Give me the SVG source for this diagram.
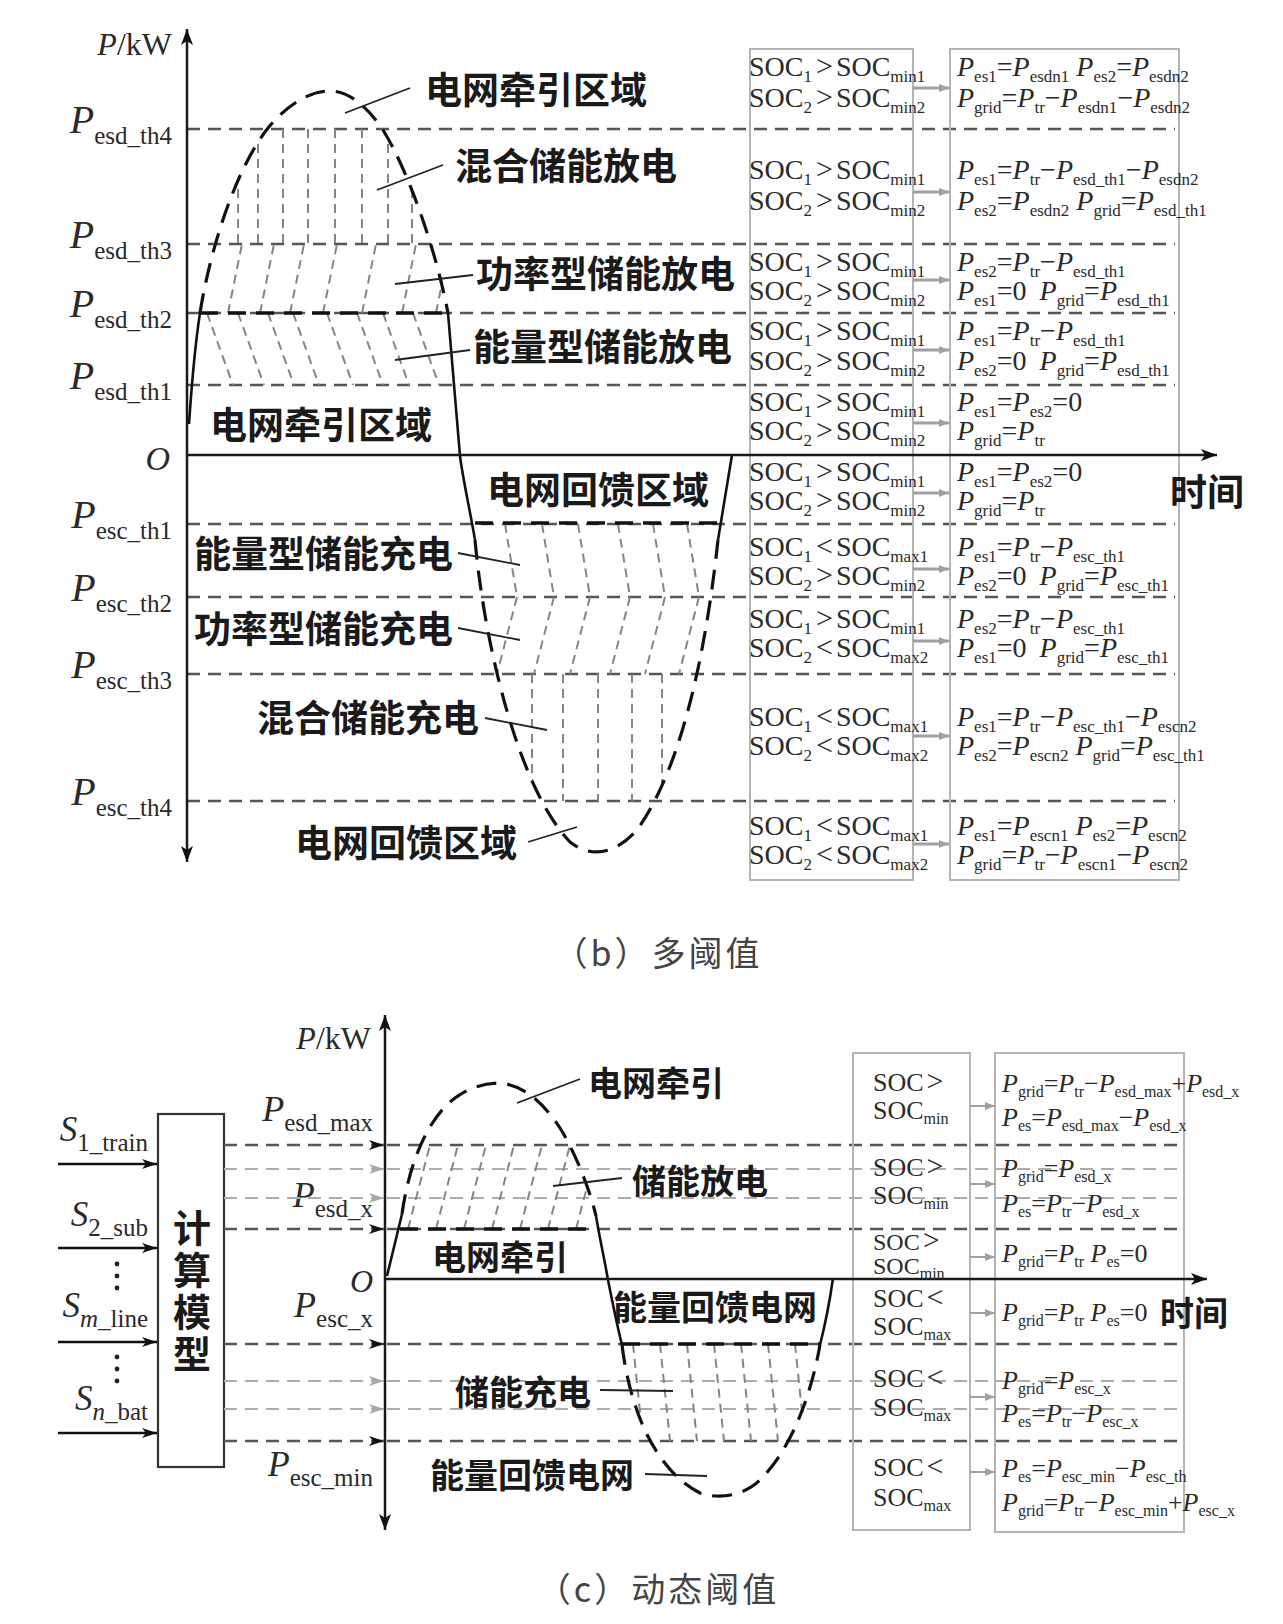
<svg xmlns="http://www.w3.org/2000/svg" width="1283" height="1624" viewBox="0 0 1283 1624">
<defs>
<style>
.ax{stroke:#1a1a1a;stroke-width:2.5;fill:none}
.th{stroke:#555;stroke-width:2.4;stroke-dasharray:13 8;fill:none}
.thl{stroke:#acacac;stroke-width:2.2;stroke-dasharray:13 8;fill:none}
.lobe{stroke:#111;stroke-width:3.2;stroke-dasharray:20 11;fill:none}
.sol{stroke:#111;stroke-width:2.6;fill:none}
.bd{stroke:#111;stroke-width:3.4;stroke-dasharray:18 10;fill:none}
.h{stroke:#858585;stroke-width:2;stroke-dasharray:9 6;fill:none}
.ld{stroke:#222;stroke-width:1.8;fill:none}
.bx{stroke:#b4b4b4;stroke-width:2;fill:none}
.ga{stroke:#a0a0a0;stroke-width:3;fill:none}
.cn{font-family:"Noto Sans CJK SC",sans-serif;fill:#1a1a1a;font-weight:700}
.t{font-family:"Liberation Serif","Times New Roman",serif;fill:#2a2a2a}
.i{font-style:italic}
.s{font-size:17px;baseline-shift:-6px}
.s2{font-size:16px;baseline-shift:-5px}
.ps{font-size:25px;baseline-shift:-11px}
.ps2{font-size:25px;baseline-shift:-10px}
.g{font-size:30px}
</style>
<marker id="ax" viewBox="0 0 16 12" refX="16" refY="6" markerWidth="16" markerHeight="12" markerUnits="userSpaceOnUse" orient="auto-start-reverse"><path d="M0,0 L16,6 L0,12 L4,6 Z" fill="#111"/></marker>
<marker id="ak" viewBox="0 0 15 10" refX="15" refY="5" markerWidth="15" markerHeight="10" markerUnits="userSpaceOnUse" orient="auto"><path d="M0,0 L15,5 L0,10 L4,5 Z" fill="#111"/></marker>
<marker id="ag" viewBox="0 0 15 10" refX="15" refY="5" markerWidth="15" markerHeight="10" markerUnits="userSpaceOnUse" orient="auto"><path d="M0,0 L15,5 L0,10 L4,5 Z" fill="#a8a8a8"/></marker>
<marker id="as" viewBox="0 0 10 8" refX="10" refY="4" markerWidth="10" markerHeight="8" markerUnits="userSpaceOnUse" orient="auto"><path d="M0,0 L10,4 L0,8 Z" fill="#a0a0a0"/></marker>
<clipPath id="cb1"><path d="M189,456 L189,424 C192,380 195,345 200,313 C210,250 235,170 268,128 C288,104 310,91 330,91 C350,91 368,108 383,130 C408,170 436,250 448,313 C453,370 457,420 460,456 Z"/></clipPath>
<clipPath id="cb2"><path d="M460,456 C463,480 470,510 475,540 C485,650 520,790 570,842 C590,858 615,855 637,830 C680,770 705,660 718,540 C723,510 728,480 732,456 Z"/></clipPath>
<clipPath id="cc1"><path d="M387,1279 L387,1272 L402,1214 C408,1170 425,1120 455,1098 C470,1087 485,1083 500,1083 C525,1085 545,1105 560,1128 C575,1152 590,1190 596,1216 C600,1240 605,1262 608,1279 Z"/></clipPath>
<clipPath id="cc2"><path d="M608,1279 C612,1300 617,1325 622,1345 C630,1410 655,1470 700,1493 C720,1500 745,1495 760,1480 C790,1450 810,1400 820,1345 C825,1325 830,1300 833,1279 Z"/></clipPath>
</defs>
<rect width="1283" height="1624" fill="#fff"/>

<!-- ===== Chart (b) ===== -->
<g id="chart-b-grid">
<path class="th" d="M187,129H1175M187,244H1175M187,313H1175M187,385H1175M187,524H1175M187,597H1175M187,674H1175M187,801H1175"/>
</g>
<g id="chart-b-boxes">
<rect class="bx" x="750" y="49" width="163" height="831"/>
<rect class="bx" x="950" y="49" width="229" height="831"/>
</g>
<g id="chart-b-hatch">
<g clip-path="url(#cb1)" class="h">
<path d="M238,129V243M258,129V243M283,129V243M308,129V243M335,129V243M362,129V243M388,129V243M412,129V243"/>
<path d="M228,313L242,244M260,313L274,244M290,313L304,244M323,313L337,244M362,313L376,244M402,313L416,244M436,313L450,244"/>
<path d="M207,313L233,385M238,313L264,385M268,313L294,385M293,313L319,385M327,313L353,385M357,313L383,385M383,313L409,385M413,313L439,385"/>
</g>
<g clip-path="url(#cb2)" class="h">
<path d="M505,524L517,597M542,524L554,597M578,524L590,597M618,524L630,597M653,524L665,597M687,524L699,597"/>
<path d="M517,597L497,674M554,597L534,674M590,597L570,674M630,597L610,674M665,597L645,674M699,597L679,674"/>
<path d="M532,674V801M563,674V801M598,674V801M632,674V801M662,674V801"/>
</g>
</g>
<g id="chart-b-curve">
<path class="lobe" d="M200,313 C210,250 235,170 268,128 C288,104 310,91 330,91 C350,91 368,108 383,130 C408,170 436,250 448,313"/>
<path class="sol" d="M189,424 C192,380 195,345 200,313"/>
<path class="sol" d="M448,313 C453,370 457,420 460,456 C463,480 470,510 475,540"/>
<path class="lobe" d="M475,540 C485,650 520,790 570,842 C590,858 615,855 637,830 C680,770 705,660 718,540"/>
<path class="sol" d="M718,540 C723,510 728,480 732,455"/>
<path class="bd" d="M200,313H448"/>
<path class="bd" d="M475,523H718"/>
</g>
<g id="chart-b-axes">
<line class="ax" x1="187" y1="862" x2="187" y2="29" marker-start="url(#ax)" marker-end="url(#ax)"/>
<line class="ax" x1="187" y1="455" x2="1217" y2="455" marker-end="url(#ax)"/>
</g>
<g id="chart-b-axis-labels" class="t" fill="#222">
<text x="172" y="55" font-size="32" text-anchor="end"><tspan class="i">P</tspan>/kW</text>
<text x="170" y="470" font-size="34" text-anchor="end" class="t i">O</text>
<text x="172" y="133" font-size="40" text-anchor="end"><tspan class="i">P</tspan><tspan class="ps">esd_th4</tspan></text>
<text x="172" y="248" font-size="40" text-anchor="end"><tspan class="i">P</tspan><tspan class="ps">esd_th3</tspan></text>
<text x="172" y="317" font-size="40" text-anchor="end"><tspan class="i">P</tspan><tspan class="ps">esd_th2</tspan></text>
<text x="172" y="389" font-size="40" text-anchor="end"><tspan class="i">P</tspan><tspan class="ps">esd_th1</tspan></text>
<text x="172" y="528" font-size="40" text-anchor="end"><tspan class="i">P</tspan><tspan class="ps">esc_th1</tspan></text>
<text x="172" y="601" font-size="40" text-anchor="end"><tspan class="i">P</tspan><tspan class="ps">esc_th2</tspan></text>
<text x="172" y="678" font-size="40" text-anchor="end"><tspan class="i">P</tspan><tspan class="ps">esc_th3</tspan></text>
<text x="172" y="805" font-size="40" text-anchor="end"><tspan class="i">P</tspan><tspan class="ps">esc_th4</tspan></text>
</g>
<g id="chart-b-region-labels" class="cn" font-size="37">
<text x="425" y="104">电网牵引区域</text>
<text x="455" y="180">混合储能放电</text>
<text x="476" y="288">功率型储能放电</text>
<text x="473" y="361">能量型储能放电</text>
<text x="210" y="439">电网牵引区域</text>
<text x="487" y="504">电网回馈区域</text>
<text x="194" y="568">能量型储能充电</text>
<text x="194" y="643">功率型储能充电</text>
<text x="257" y="732">混合储能充电</text>
<text x="295" y="857">电网回馈区域</text>
<text x="1170" y="506">时间</text>
</g>
<g id="chart-b-soc" class="t" font-size="28">
<text x="749" y="76">SOC<tspan class="s">1</tspan><tspan class="g" dx="4">&gt;</tspan><tspan dx="3">SOC</tspan><tspan class="s">min1</tspan></text>
<text x="749" y="107">SOC<tspan class="s">2</tspan><tspan class="g" dx="4">&gt;</tspan><tspan dx="3">SOC</tspan><tspan class="s">min2</tspan></text>
<text x="749" y="179">SOC<tspan class="s">1</tspan><tspan class="g" dx="4">&gt;</tspan><tspan dx="3">SOC</tspan><tspan class="s">min1</tspan></text>
<text x="749" y="210">SOC<tspan class="s">2</tspan><tspan class="g" dx="4">&gt;</tspan><tspan dx="3">SOC</tspan><tspan class="s">min2</tspan></text>
<text x="749" y="271">SOC<tspan class="s">1</tspan><tspan class="g" dx="4">&gt;</tspan><tspan dx="3">SOC</tspan><tspan class="s">min1</tspan></text>
<text x="749" y="300">SOC<tspan class="s">2</tspan><tspan class="g" dx="4">&gt;</tspan><tspan dx="3">SOC</tspan><tspan class="s">min2</tspan></text>
<text x="749" y="340">SOC<tspan class="s">1</tspan><tspan class="g" dx="4">&gt;</tspan><tspan dx="3">SOC</tspan><tspan class="s">min1</tspan></text>
<text x="749" y="370">SOC<tspan class="s">2</tspan><tspan class="g" dx="4">&gt;</tspan><tspan dx="3">SOC</tspan><tspan class="s">min2</tspan></text>
<text x="749" y="411">SOC<tspan class="s">1</tspan><tspan class="g" dx="4">&gt;</tspan><tspan dx="3">SOC</tspan><tspan class="s">min1</tspan></text>
<text x="749" y="440">SOC<tspan class="s">2</tspan><tspan class="g" dx="4">&gt;</tspan><tspan dx="3">SOC</tspan><tspan class="s">min2</tspan></text>
<text x="749" y="481">SOC<tspan class="s">1</tspan><tspan class="g" dx="4">&gt;</tspan><tspan dx="3">SOC</tspan><tspan class="s">min1</tspan></text>
<text x="749" y="510">SOC<tspan class="s">2</tspan><tspan class="g" dx="4">&gt;</tspan><tspan dx="3">SOC</tspan><tspan class="s">min2</tspan></text>
<text x="749" y="556">SOC<tspan class="s">1</tspan><tspan class="g" dx="4">&lt;</tspan><tspan dx="3">SOC</tspan><tspan class="s">max1</tspan></text>
<text x="749" y="585">SOC<tspan class="s">2</tspan><tspan class="g" dx="4">&gt;</tspan><tspan dx="3">SOC</tspan><tspan class="s">min2</tspan></text>
<text x="749" y="628">SOC<tspan class="s">1</tspan><tspan class="g" dx="4">&gt;</tspan><tspan dx="3">SOC</tspan><tspan class="s">min1</tspan></text>
<text x="749" y="657">SOC<tspan class="s">2</tspan><tspan class="g" dx="4">&lt;</tspan><tspan dx="3">SOC</tspan><tspan class="s">max2</tspan></text>
<text x="749" y="726">SOC<tspan class="s">1</tspan><tspan class="g" dx="4">&lt;</tspan><tspan dx="3">SOC</tspan><tspan class="s">max1</tspan></text>
<text x="749" y="755">SOC<tspan class="s">2</tspan><tspan class="g" dx="4">&lt;</tspan><tspan dx="3">SOC</tspan><tspan class="s">max2</tspan></text>
<text x="749" y="835">SOC<tspan class="s">1</tspan><tspan class="g" dx="4">&lt;</tspan><tspan dx="3">SOC</tspan><tspan class="s">max1</tspan></text>
<text x="749" y="864">SOC<tspan class="s">2</tspan><tspan class="g" dx="4">&lt;</tspan><tspan dx="3">SOC</tspan><tspan class="s">max2</tspan></text>
</g>
<g id="chart-b-formulas" class="t" font-size="28">
<text x="957" y="76"><tspan class="i">P</tspan><tspan class="s">es1</tspan>=<tspan class="i">P</tspan><tspan class="s">esdn1</tspan> <tspan class="i">P</tspan><tspan class="s">es2</tspan>=<tspan class="i">P</tspan><tspan class="s">esdn2</tspan></text>
<text x="957" y="107"><tspan class="i">P</tspan><tspan class="s">grid</tspan>=<tspan class="i">P</tspan><tspan class="s">tr</tspan>−<tspan class="i">P</tspan><tspan class="s">esdn1</tspan>−<tspan class="i">P</tspan><tspan class="s">esdn2</tspan></text>
<text x="957" y="179"><tspan class="i">P</tspan><tspan class="s">es1</tspan>=<tspan class="i">P</tspan><tspan class="s">tr</tspan>−<tspan class="i">P</tspan><tspan class="s">esd_th1</tspan>−<tspan class="i">P</tspan><tspan class="s">esdn2</tspan></text>
<text x="957" y="210"><tspan class="i">P</tspan><tspan class="s">es2</tspan>=<tspan class="i">P</tspan><tspan class="s">esdn2</tspan> <tspan class="i">P</tspan><tspan class="s">grid</tspan>=<tspan class="i">P</tspan><tspan class="s">esd_th1</tspan></text>
<text x="957" y="271"><tspan class="i">P</tspan><tspan class="s">es2</tspan>=<tspan class="i">P</tspan><tspan class="s">tr</tspan>−<tspan class="i">P</tspan><tspan class="s">esd_th1</tspan></text>
<text x="957" y="300"><tspan class="i">P</tspan><tspan class="s">es1</tspan>=0 <tspan class="i" dx="6">P</tspan><tspan class="s">grid</tspan>=<tspan class="i">P</tspan><tspan class="s">esd_th1</tspan></text>
<text x="957" y="340"><tspan class="i">P</tspan><tspan class="s">es1</tspan>=<tspan class="i">P</tspan><tspan class="s">tr</tspan>−<tspan class="i">P</tspan><tspan class="s">esd_th1</tspan></text>
<text x="957" y="370"><tspan class="i">P</tspan><tspan class="s">es2</tspan>=0 <tspan class="i" dx="6">P</tspan><tspan class="s">grid</tspan>=<tspan class="i">P</tspan><tspan class="s">esd_th1</tspan></text>
<text x="957" y="411"><tspan class="i">P</tspan><tspan class="s">es1</tspan>=<tspan class="i">P</tspan><tspan class="s">es2</tspan>=0</text>
<text x="957" y="440"><tspan class="i">P</tspan><tspan class="s">grid</tspan>=<tspan class="i">P</tspan><tspan class="s">tr</tspan></text>
<text x="957" y="481"><tspan class="i">P</tspan><tspan class="s">es1</tspan>=<tspan class="i">P</tspan><tspan class="s">es2</tspan>=0</text>
<text x="957" y="510"><tspan class="i">P</tspan><tspan class="s">grid</tspan>=<tspan class="i">P</tspan><tspan class="s">tr</tspan></text>
<text x="957" y="556"><tspan class="i">P</tspan><tspan class="s">es1</tspan>=<tspan class="i">P</tspan><tspan class="s">tr</tspan>−<tspan class="i">P</tspan><tspan class="s">esc_th1</tspan></text>
<text x="957" y="585"><tspan class="i">P</tspan><tspan class="s">es2</tspan>=0 <tspan class="i" dx="6">P</tspan><tspan class="s">grid</tspan>=<tspan class="i">P</tspan><tspan class="s">esc_th1</tspan></text>
<text x="957" y="628"><tspan class="i">P</tspan><tspan class="s">es2</tspan>=<tspan class="i">P</tspan><tspan class="s">tr</tspan>−<tspan class="i">P</tspan><tspan class="s">esc_th1</tspan></text>
<text x="957" y="657"><tspan class="i">P</tspan><tspan class="s">es1</tspan>=0 <tspan class="i" dx="6">P</tspan><tspan class="s">grid</tspan>=<tspan class="i">P</tspan><tspan class="s">esc_th1</tspan></text>
<text x="957" y="726"><tspan class="i">P</tspan><tspan class="s">es1</tspan>=<tspan class="i">P</tspan><tspan class="s">tr</tspan>−<tspan class="i">P</tspan><tspan class="s">esc_th1</tspan>−<tspan class="i">P</tspan><tspan class="s">escn2</tspan></text>
<text x="957" y="755"><tspan class="i">P</tspan><tspan class="s">es2</tspan>=<tspan class="i">P</tspan><tspan class="s">escn2</tspan> <tspan class="i">P</tspan><tspan class="s">grid</tspan>=<tspan class="i">P</tspan><tspan class="s">esc_th1</tspan></text>
<text x="957" y="835"><tspan class="i">P</tspan><tspan class="s">es1</tspan>=<tspan class="i">P</tspan><tspan class="s">escn1</tspan> <tspan class="i">P</tspan><tspan class="s">es2</tspan>=<tspan class="i">P</tspan><tspan class="s">escn2</tspan></text>
<text x="957" y="864"><tspan class="i">P</tspan><tspan class="s">grid</tspan>=<tspan class="i">P</tspan><tspan class="s">tr</tspan>−<tspan class="i">P</tspan><tspan class="s">escn1</tspan>−<tspan class="i">P</tspan><tspan class="s">escn2</tspan></text>
</g>
<g id="caption-b"><text x="658" y="966" font-family="Noto Sans CJK SC, sans-serif" font-size="34" fill="#444" text-anchor="middle" letter-spacing="3">（b）多阈值</text></g>

<!-- ===== Chart (c) ===== -->
<g id="chart-c-grid">
<path class="th" d="M387,1145H1184M387,1229H1184M387,1344H1184M387,1441H1184"/>
<path class="thl" d="M387,1169H1184M387,1198H1184M387,1381H1184M387,1409H1184"/>
</g>
<g id="chart-c-boxes">
<rect class="bx" x="853" y="1053" width="117" height="477"/>
<rect class="bx" x="995" y="1053" width="189" height="479"/>
</g>
<g id="calc-model">
<rect x="158" y="1114" width="66" height="353" fill="none" stroke="#333" stroke-width="2.2"/>
<text class="cn" x="192" y="1209" font-size="38" fill="#333" letter-spacing="4" style="writing-mode:vertical-rl">计算模型</text>
</g>
<g id="chart-c-hatch">
<g clip-path="url(#cc1)" class="h">
<path d="M408,1229L430,1145M436,1229L458,1145M464,1229L486,1145M492,1229L514,1145M520,1229L542,1145M548,1229L570,1145M576,1229L598,1145"/>
</g>
<g clip-path="url(#cc2)" class="h">
<path d="M633,1344L643,1441M660,1344L670,1441M687,1344L697,1441M714,1344L724,1441M741,1344L751,1441M768,1344L778,1441M795,1344L805,1441"/>
</g>
</g>
<g id="chart-c-curve">
<path class="lobe" d="M402,1214 C408,1170 425,1120 455,1098 C470,1087 485,1083 500,1083 C525,1085 545,1105 560,1128 C575,1152 590,1190 596,1216"/>
<path class="sol" d="M387,1276 L402,1214"/>
<path class="sol" d="M596,1216 C600,1240 605,1262 608,1280 C612,1300 617,1325 622,1345"/>
<path class="lobe" d="M622,1345 C630,1410 655,1470 700,1493 C720,1500 745,1495 760,1480 C790,1450 810,1400 820,1345"/>
<path class="sol" d="M820,1345 C825,1325 830,1300 833,1278"/>
<path class="bd" d="M400,1229H596"/>
<path class="bd" d="M622,1344H820"/>
</g>
<g id="chart-c-axes">
<line class="ax" x1="385" y1="1530" x2="385" y2="1015" marker-start="url(#ax)" marker-end="url(#ax)"/>
<line class="ax" x1="385" y1="1279" x2="1207" y2="1279" marker-end="url(#ax)"/>
</g>
<g id="chart-c-axis-labels" class="t">
<text x="371" y="1049" font-size="32" text-anchor="end"><tspan class="i">P</tspan>/kW</text>
<text x="373" y="1292" font-size="32" text-anchor="end" class="t i">O</text>
<text x="373" y="1121" font-size="36" text-anchor="end"><tspan class="i">P</tspan><tspan class="ps2">esd_max</tspan></text>
<text x="373" y="1207" font-size="36" text-anchor="end"><tspan class="i">P</tspan><tspan class="ps2">esd_x</tspan></text>
<text x="373" y="1317" font-size="36" text-anchor="end"><tspan class="i">P</tspan><tspan class="ps2">esc_x</tspan></text>
<text x="373" y="1476" font-size="36" text-anchor="end"><tspan class="i">P</tspan><tspan class="ps2">esc_min</tspan></text>
<text x="148" y="1141" font-size="35" text-anchor="end"><tspan class="i">S</tspan><tspan class="ps2">1_train</tspan></text>
<text x="148" y="1226" font-size="35" text-anchor="end"><tspan class="i">S</tspan><tspan class="ps2">2_sub</tspan></text>
<text x="148" y="1317" font-size="35" text-anchor="end"><tspan class="i">S</tspan><tspan class="ps2"><tspan class="i">m</tspan>_line</tspan></text>
<text x="148" y="1410" font-size="35" text-anchor="end"><tspan class="i">S</tspan><tspan class="ps2"><tspan class="i">n</tspan>_bat</tspan></text>
</g>
<g id="dots" fill="#222">
<circle cx="117" cy="1264" r="2.4"/><circle cx="117" cy="1276" r="2.4"/><circle cx="117" cy="1288" r="2.4"/>
<circle cx="117" cy="1357" r="2.4"/><circle cx="117" cy="1369" r="2.4"/><circle cx="117" cy="1381" r="2.4"/>
</g>
<g id="chart-c-region-labels" class="cn" font-size="34">
<text x="588" y="1096">电网牵引</text>
<text x="632" y="1194">储能放电</text>
<text x="432" y="1270">电网牵引</text>
<text x="613" y="1320">能量回馈电网</text>
<text x="455" y="1405">储能充电</text>
<text x="430" y="1488">能量回馈电网</text>
<text x="1160" y="1326">时间</text>
</g>
<g id="chart-c-soc" class="t" font-size="26">
<text x="873" y="1091">SOC<tspan class="g" font-size="28" dx="3">&gt;</tspan></text>
<text x="873" y="1119">SOC<tspan class="s2">min</tspan></text>
<text x="873" y="1176">SOC<tspan class="g" font-size="28" dx="3">&gt;</tspan></text>
<text x="873" y="1204">SOC<tspan class="s2">min</tspan></text>
<text x="873" y="1250" font-size="24">SOC<tspan class="g" font-size="26" dx="3">&gt;</tspan></text>
<text x="873" y="1274" font-size="24">SOC<tspan class="s2">min</tspan></text>
<text x="873" y="1307">SOC<tspan class="g" font-size="28" dx="3">&lt;</tspan></text>
<text x="873" y="1335">SOC<tspan class="s2">max</tspan></text>
<text x="873" y="1387">SOC<tspan class="g" font-size="28" dx="3">&lt;</tspan></text>
<text x="873" y="1416">SOC<tspan class="s2">max</tspan></text>
<text x="873" y="1476">SOC<tspan class="g" font-size="28" dx="3">&lt;</tspan></text>
<text x="873" y="1506">SOC<tspan class="s2">max</tspan></text>
</g>
<g id="chart-c-formulas" class="t" font-size="26">
<text x="1002" y="1092"><tspan class="i">P</tspan><tspan class="s2">grid</tspan>=<tspan class="i">P</tspan><tspan class="s2">tr</tspan>−<tspan class="i">P</tspan><tspan class="s2">esd_max</tspan>+<tspan class="i">P</tspan><tspan class="s2">esd_x</tspan></text>
<text x="1002" y="1126"><tspan class="i">P</tspan><tspan class="s2">es</tspan>=<tspan class="i">P</tspan><tspan class="s2">esd_max</tspan>−<tspan class="i">P</tspan><tspan class="s2">esd_x</tspan></text>
<text x="1002" y="1177"><tspan class="i">P</tspan><tspan class="s2">grid</tspan>=<tspan class="i">P</tspan><tspan class="s2">esd_x</tspan></text>
<text x="1002" y="1212"><tspan class="i">P</tspan><tspan class="s2">es</tspan>=<tspan class="i">P</tspan><tspan class="s2">tr</tspan>−<tspan class="i">P</tspan><tspan class="s2">esd_x</tspan></text>
<text x="1002" y="1262"><tspan class="i">P</tspan><tspan class="s2">grid</tspan>=<tspan class="i">P</tspan><tspan class="s2">tr</tspan> <tspan class="i">P</tspan><tspan class="s2">es</tspan>=0</text>
<text x="1002" y="1321"><tspan class="i">P</tspan><tspan class="s2">grid</tspan>=<tspan class="i">P</tspan><tspan class="s2">tr</tspan> <tspan class="i">P</tspan><tspan class="s2">es</tspan>=0</text>
<text x="1002" y="1389"><tspan class="i">P</tspan><tspan class="s2">grid</tspan>=<tspan class="i">P</tspan><tspan class="s2">esc_x</tspan></text>
<text x="1002" y="1422"><tspan class="i">P</tspan><tspan class="s2">es</tspan>=<tspan class="i">P</tspan><tspan class="s2">tr</tspan>−<tspan class="i">P</tspan><tspan class="s2">esc_x</tspan></text>
<text x="1002" y="1477"><tspan class="i">P</tspan><tspan class="s2">es</tspan>=<tspan class="i">P</tspan><tspan class="s2">esc_min</tspan>−<tspan class="i">P</tspan><tspan class="s2">esc_th</tspan></text>
<text x="1002" y="1511"><tspan class="i">P</tspan><tspan class="s2">grid</tspan>=<tspan class="i">P</tspan><tspan class="s2">tr</tspan>−<tspan class="i">P</tspan><tspan class="s2">esc_min</tspan>+<tspan class="i">P</tspan><tspan class="s2">esc_x</tspan></text>
</g>
<g id="caption-c"><text x="658" y="1602" font-family="Noto Sans CJK SC, sans-serif" font-size="34" fill="#444" text-anchor="middle" letter-spacing="3">（c）动态阈值</text></g>

<!-- ===== Connectors ===== -->
<g id="connectors">
<g class="ld">
<line x1="410" y1="88" x2="345" y2="113"/>
<line x1="443" y1="165" x2="377" y2="190"/>
<line x1="473" y1="275" x2="395" y2="284"/>
<line x1="470" y1="350" x2="395" y2="360"/>
<line x1="458" y1="553" x2="520" y2="565"/>
<line x1="458" y1="628" x2="520" y2="640"/>
<line x1="485" y1="718" x2="547" y2="730"/>
<line x1="528" y1="842" x2="577" y2="827"/>
<line x1="517" y1="1103" x2="580" y2="1079"/>
<line x1="553" y1="1186" x2="622" y2="1178"/>
<line x1="600" y1="1390" x2="673" y2="1391"/>
<line x1="645" y1="1474" x2="707" y2="1476"/>
</g>
<g class="ga" marker-end="url(#as)">
<line x1="913" y1="88" x2="949" y2="88"/>
<line x1="913" y1="192" x2="949" y2="192"/>
<line x1="913" y1="280" x2="949" y2="280"/>
<line x1="913" y1="350" x2="949" y2="350"/>
<line x1="913" y1="423" x2="949" y2="423"/>
<line x1="913" y1="493" x2="949" y2="493"/>
<line x1="913" y1="569" x2="949" y2="569"/>
<line x1="913" y1="641" x2="949" y2="641"/>
<line x1="913" y1="736" x2="949" y2="736"/>
<line x1="913" y1="844" x2="949" y2="844"/>
</g>
<g stroke="#a0a0a0" stroke-width="2" marker-end="url(#as)">
<line x1="970" y1="1106" x2="995" y2="1106"/>
<line x1="970" y1="1184" x2="995" y2="1184"/>
<line x1="970" y1="1257" x2="995" y2="1257"/>
<line x1="970" y1="1313" x2="995" y2="1313"/>
<line x1="970" y1="1397" x2="995" y2="1397"/>
<line x1="970" y1="1472" x2="995" y2="1472"/>
</g>
<g stroke="#111" stroke-width="2.5" marker-end="url(#ak)">
<line x1="58" y1="1164" x2="157" y2="1164"/>
<line x1="58" y1="1248" x2="157" y2="1248"/>
<line x1="58" y1="1342" x2="157" y2="1342"/>
<line x1="58" y1="1433" x2="157" y2="1433"/>
</g>
<g class="th" marker-end="url(#ak)">
<line x1="224" y1="1145" x2="384" y2="1145"/>
<line x1="224" y1="1229" x2="384" y2="1229"/>
<line x1="224" y1="1344" x2="384" y2="1344"/>
<line x1="224" y1="1441" x2="384" y2="1441"/>
</g>
<g class="thl" marker-end="url(#ag)">
<line x1="224" y1="1169" x2="384" y2="1169"/>
<line x1="224" y1="1198" x2="384" y2="1198"/>
<line x1="224" y1="1381" x2="384" y2="1381"/>
<line x1="224" y1="1409" x2="384" y2="1409"/>
</g>
</g>
</svg>
